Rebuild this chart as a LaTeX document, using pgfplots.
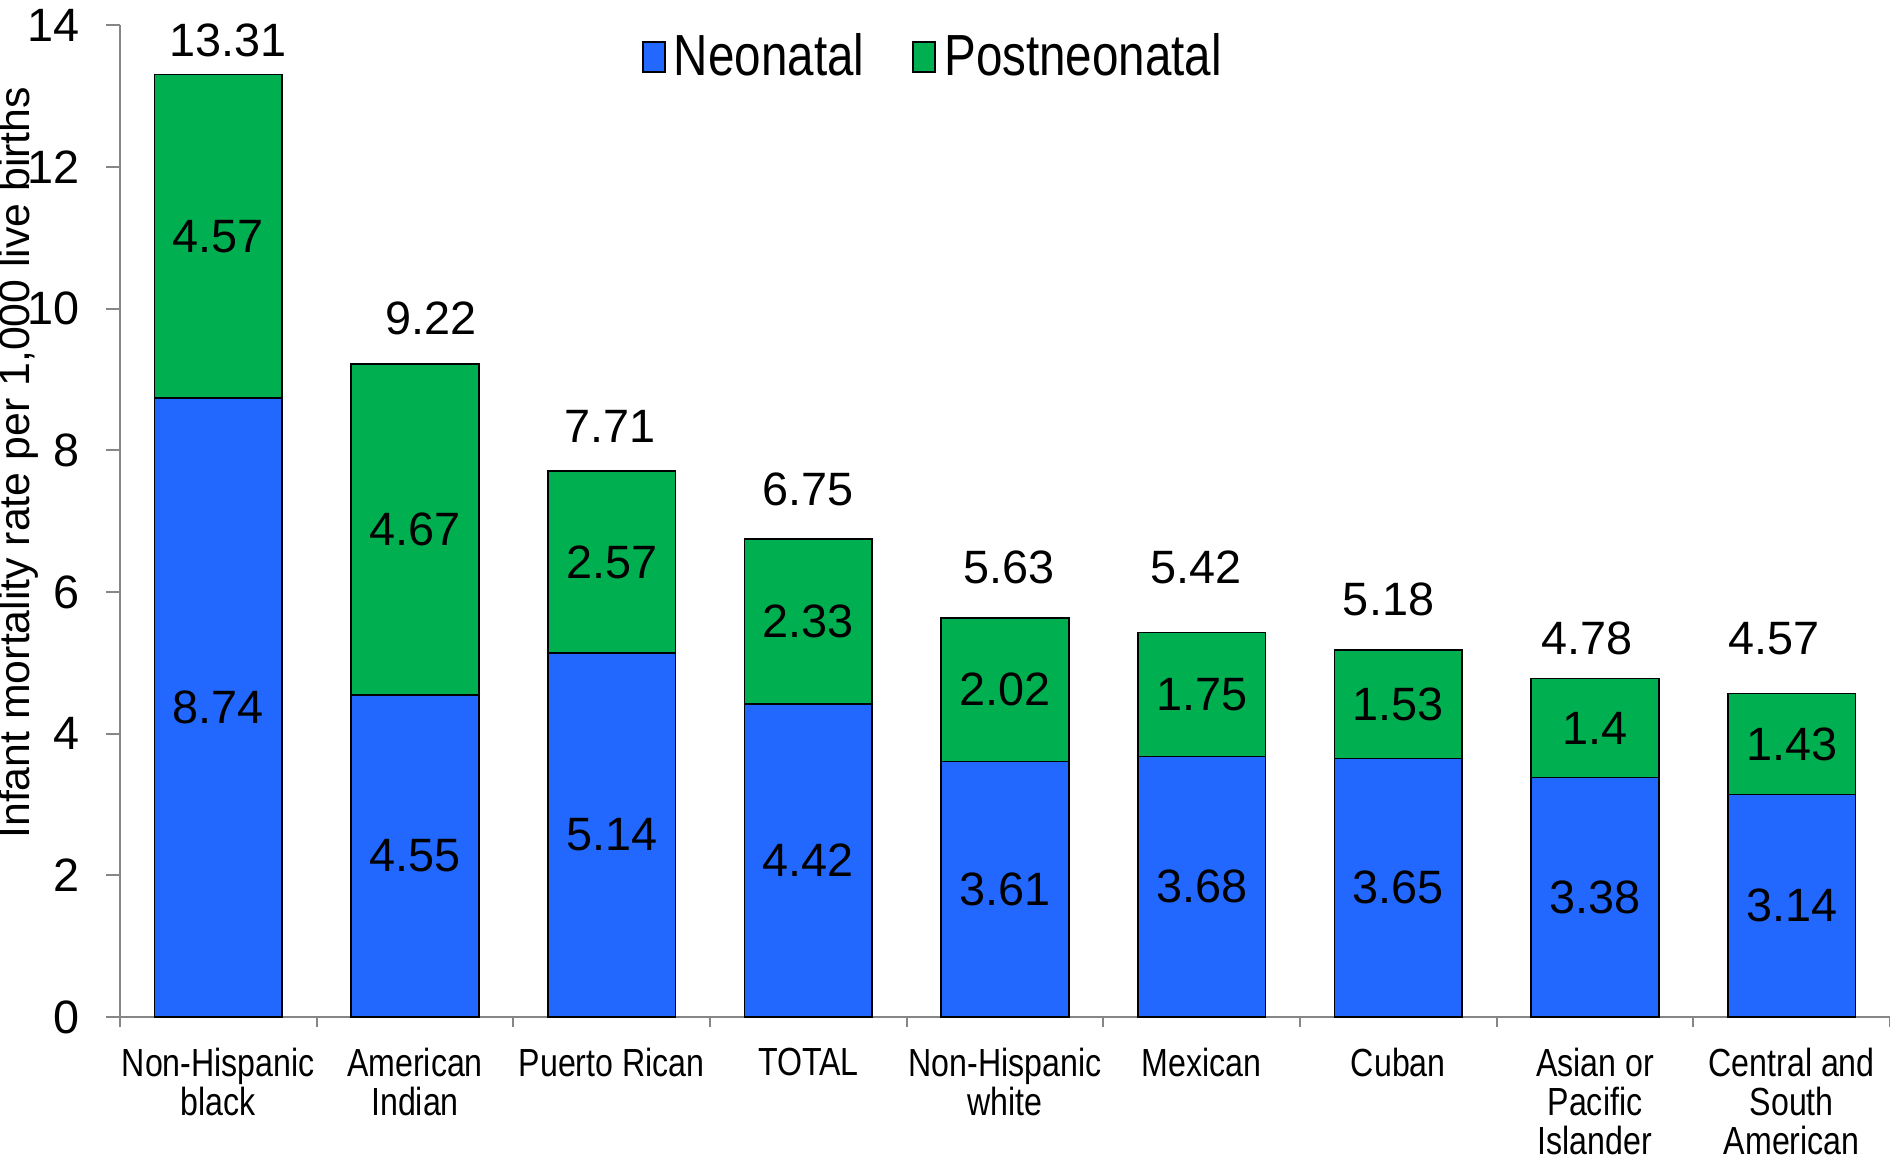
\documentclass[border=0pt]{standalone}
\usepackage{fontspec}
\setmainfont{Liberation Sans}
\newfontfamily\narrowfont[FakeStretch=0.82]{Liberation Sans}
\usepackage{pgfplots}
\pgfplotsset{compat=1.18}
\usepackage{pgfplotstable}

\definecolor{neoblue}{RGB}{34,104,255}
\definecolor{postgreen}{RGB}{0,176,80}
\definecolor{axisgray}{RGB}{134,134,134}

% rates per 1,000 live births
\pgfplotstableread{
x neo post
0 8.74 4.57
1 4.55 4.67
2 5.14 2.57
3 4.42 2.33
4 3.61 2.02
5 3.68 1.75
6 3.65 1.53
7 3.38 1.40
8 3.14 1.43
}\rates

% label positions (segment middles / above bars)
\pgfplotstableread{
x y lab
0 4.370 8.74
1 2.275 4.55
2 2.570 5.14
3 2.210 4.42
4 1.805 3.61
5 1.840 3.68
6 1.825 3.65
7 1.690 3.38
8 1.570 3.14
}\neolab
\pgfplotstableread{
x y lab
0 11.025 4.57
1 6.885 4.67
2 6.425 2.57
3 5.585 2.33
4 4.620 2.02
5 4.555 1.75
6 4.415 1.53
7 4.080 1.4
8 3.855 1.43
}\postlab
\pgfplotstableread{
x y lab
0.05 13.56 13.31
1.08 9.63 9.22
1.99 8.11 7.71
3.00 7.22 6.75
4.02 6.12 5.63
4.97 6.12 5.42
5.95 5.67 5.18
6.96 5.12 4.78
7.91 5.12 4.57
}\totlab

\pgfplotsset{
  common/.style={
    scale only axis, width=442.5pt, height=247.875pt,
    xmin=-0.5, xmax=8.5, ymin=0, ymax=14,
  },
}

\begin{document}
\begin{tikzpicture}
\begin{axis}[
  common, name=ax,
  ybar stacked, bar width=0.65,
  axis x line*=bottom, axis y line*=left,
  axis line style={draw=axisgray, line width=0.5pt},
  tick align=outside,
  ytick={0,2,...,14},
  xtick={0,...,8},
  xticklabels={Non-Hispanic\\black, American\\Indian, Puerto Rican, TOTAL,
    Non-Hispanic\\white, Mexican, Cuban, Asian or\\Pacific\\Islander,
    Central and\\South\\American},
  minor xtick={-0.5,0.5,...,8.5},
  major x tick style={draw=none},
  minor x tick style={draw=axisgray, line width=0.5pt},
  major y tick style={draw=axisgray, line width=0.5pt},
  major tick length=3.5pt, minor tick length=2.5pt,
  /pgf/number format/assume math mode=true,
  yticklabel style={font=\fontsize{11.7}{13}\selectfont, inner sep=0pt, anchor=east, xshift=-6.5pt},
  xticklabel style={font=\narrowfont\fontsize{9.8}{9.8}\selectfont, align=center,
    anchor=north, inner sep=0pt, yshift=-4pt},
  ylabel={Infant mortality rate per 1,000 live births},
  every axis y label/.style={at={(rel axis cs:0,0.559)}, rotate=90, anchor=base,
    yshift=22.5pt, inner sep=0pt, font=\fontsize{10.7}{13}\selectfont},
  legend columns=2,
  legend style={at={(0.461,0.968)}, anchor=center, draw=none, fill=none,
    font=\narrowfont\fontsize{14.5}{16}\selectfont,
    /tikz/every even column/.append style={column sep=10pt}},
  legend image code/.code={\draw[#1,draw=black,line width=0.5pt] (0pt,-3.7pt) rectangle (5.5pt,3.7pt);},
]
\addplot[fill=neoblue, draw=black, line width=0.4pt] table[x=x, y=neo] {\rates};
\addlegendentry{Neonatal}
\addplot[fill=postgreen, draw=black, line width=0.4pt] table[x=x, y=post] {\rates};
\addlegendentry{Postneonatal}
\end{axis}

\begin{axis}[
  common, hide axis, clip=false,
  nodes near coords, point meta=explicit symbolic,
  every node near coord/.append style={font=\fontsize{11.7}{13}\selectfont, inner sep=0pt},
]
\addplot[draw=none, mark=none, every node near coord/.append style={anchor=center}]
  table[x=x, y=y, meta=lab] {\neolab};
\addplot[draw=none, mark=none, every node near coord/.append style={anchor=center}]
  table[x=x, y=y, meta=lab] {\postlab};
\addplot[draw=none, mark=none, every node near coord/.append style={anchor=base}]
  table[x=x, y=y, meta=lab] {\totlab};
\end{axis}

\pgfresetboundingbox
\path ([shift={(-30pt,-36pt)}]ax.south west) rectangle ([shift={(0pt,6.375pt)}]ax.north east);
\end{tikzpicture}
\end{document}
